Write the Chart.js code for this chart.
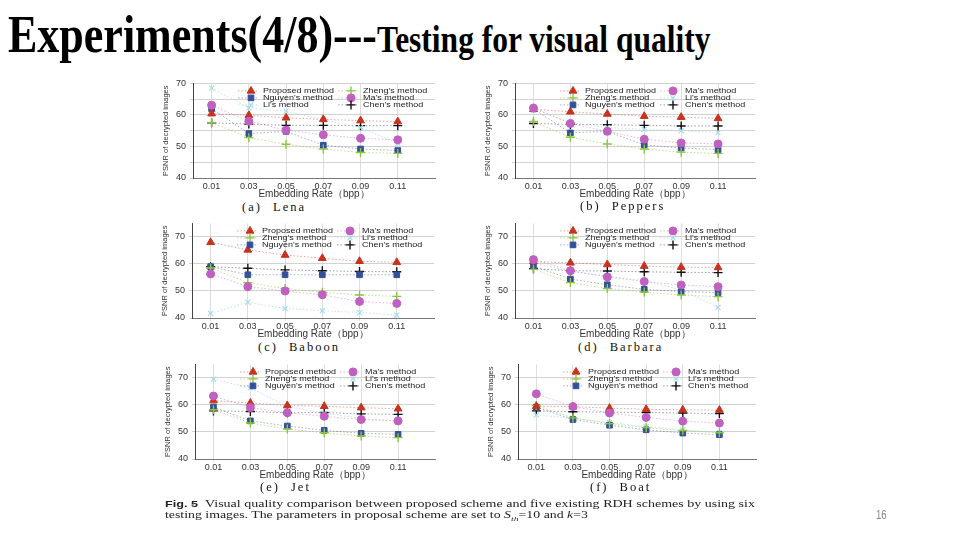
<!DOCTYPE html>
<html>
<head>
<meta charset="utf-8">
<script src="https://cdn.jsdelivr.net/npm/chart.js@4.4.1/dist/chart.umd.min.js"></script>
<style>
  body { margin: 0; width: 960px; height: 540px; background: #fff; position: relative; overflow: hidden; }
  #title { position: absolute; left: 8px; top: 9px; white-space: nowrap; font-family: "Liberation Serif", serif; font-weight: bold; line-height: 1; transform: scaleY(1.2); transform-origin: left top; }
  #title .big { font-size: 44px; }
  #title .small { font-size: 31.5px; }
  canvas { position: absolute; }
  .sub { position: absolute; font-family: "Liberation Serif", serif; font-size: 12.5px; letter-spacing: 2px; word-spacing: 6px; color: #111; white-space: nowrap; line-height: 14px; }
  .cap { position: absolute; left: 165px; font-family: "Liberation Serif", serif; font-size: 10px; color: #222; white-space: nowrap; line-height: 11px; transform-origin: left top; }
  .cap b { font-family: "Liberation Sans", sans-serif; font-size: 9px; }
  .cap sub { font-size: 7px; }
  #page { position: absolute; left: 876px; top: 508px; font-family: "Liberation Sans", sans-serif; font-size: 12px; color: #888; transform: scaleX(0.8); transform-origin: left top; }
</style>
</head>
<body>
<div id="title"><span class="big">Experiments(4/8)---</span><span class="small">Testing for visual quality</span></div>

<canvas id="lena" width="280" height="126" style="left:159px;top:74px"></canvas>
<canvas id="peppers" width="278" height="126" style="left:481px;top:74px"></canvas>
<canvas id="baboon" width="280" height="126" style="left:158px;top:214px"></canvas>
<canvas id="barbara" width="278" height="126" style="left:481px;top:214px"></canvas>
<canvas id="jet" width="278" height="126" style="left:161px;top:355px"></canvas>
<canvas id="boat" width="276" height="126" style="left:484px;top:355px"></canvas>

<div class="sub" style="left:242px;top:200px">(a) Lena</div>
<div class="sub" style="left:580px;top:199px">(b) Peppers</div>
<div class="sub" style="left:258px;top:340px">(c) Baboon</div>
<div class="sub" style="left:578px;top:340px">(d) Barbara</div>
<div class="sub" style="left:260px;top:480px">(e) Jet</div>
<div class="sub" style="left:590px;top:480px">(f) Boat</div>

<div class="cap" id="cap1" style="top:498px"><b>Fig. 5</b>&nbsp;&nbsp;Visual quality comparison between proposed scheme and five existing RDH schemes by using six</div>
<div class="cap" id="cap2" style="top:509px">testing images. The parameters in proposal scheme are set to <i>S<sub>th</sub></i>=10 and <i>k</i>=3</div>
<div id="page">16</div>

<script>
const rates = ['0.01', '0.03', '0.05', '0.07', '0.09', '0.11'];
const methods = ["Proposed method", "Zheng's method", "Nguyen's method", "Ma's method", "Li's method", "Chen's method"];

// (a) Lena
const lenaProposed = [60.4, 59.9, 59.1, 58.6, 58.2, 57.9];
const lenaZheng = [57.6, 52.8, 50.7, 49.2, 48.1, 47.8];
const lenaNguyen = [62.0, 54.1, 54.8, 50.4, 49.2, 48.7];
const lenaMa = [63.1, 58.0, 55.2, 53.7, 52.6, 52.1];
const lenaLi = [68.5, 62.2, 61.2, 58.5, 56.0, 51.0];
const lenaChen = [57.5, 57.1, 56.7, 56.7, 56.6, 56.6];

// (b) Peppers
const peppersProposed = [61.8, 61.0, 60.3, 59.6, 59.3, 58.9];
const peppersZheng = [57.9, 52.9, 50.8, 49.2, 48.2, 47.8];
const peppersNguyen = [61.9, 54.3, 54.8, 50.5, 49.5, 49.0];
const peppersMa = [62.2, 57.3, 54.8, 52.3, 51.1, 50.8];
const peppersLi = [62.0, 57.5, 56.0, 55.4, 55.0, 54.4];
const peppersChen = [57.3, 57.0, 56.9, 56.7, 56.5, 56.5];

// (c) Baboon
const baboonProposed = [68.0, 65.2, 63.3, 62.1, 61.0, 60.6];
const baboonZheng = [58.5, 53.1, 50.9, 49.5, 48.5, 48.0];
const baboonNguyen = [59.0, 56.0, 56.0, 56.0, 56.0, 56.0];
const baboonMa = [56.3, 51.6, 50.0, 48.6, 46.1, 45.4];
const baboonLi = [41.7, 45.8, 43.5, 42.7, 42.0, 41.1];
const baboonChen = [59.0, 58.4, 57.8, 57.5, 57.2, 57.1];

// (d) Barbara
const barbaraProposed = [60.9, 60.4, 59.8, 59.2, 58.8, 58.7];
const barbaraZheng = [58.0, 53.1, 50.9, 49.6, 48.5, 47.9];
const barbaraNguyen = [59.2, 54.4, 52.3, 50.6, 49.8, 49.4];
const barbaraMa = [61.6, 57.5, 55.2, 53.5, 52.2, 51.6];
const barbaraLi = [60.5, 57.2, 55.5, 53.8, 50.5, 43.9];
const barbaraChen = [58.2, 57.5, 57.4, 57.1, 56.9, 56.8];

// (e) Jet
const jetProposed = [61.6, 60.7, 59.8, 59.5, 59.0, 58.6];
const jetZheng = [58.2, 53.3, 51.1, 49.7, 48.5, 47.9];
const jetNguyen = [59.2, 54.1, 52.2, 50.6, 49.5, 49.1];
const jetMa = [63.3, 59.0, 57.1, 55.8, 54.6, 54.1];
const jetLi = [69.5, 66.3, 59.5, 57.0, 55.0, 54.0];
const jetChen = [57.8, 57.6, 57.1, 57.2, 56.7, 56.5];

// (f) Boat
const boatProposed = [59.5, 59.4, 58.8, 58.4, 58.2, 58.1];
const boatZheng = [59.8, 55.2, 53.1, 51.6, 50.5, 49.7];
const boatNguyen = [59.2, 54.6, 52.5, 50.8, 49.6, 49.0];
const boatMa = [64.1, 59.4, 57.0, 55.4, 54.0, 53.3];
const boatLi = [56.3, 55.0, 53.5, 52.0, 50.8, 49.8];
const boatChen = [57.8, 57.5, 57.3, 57.2, 57.0, 56.8];

const markColors = ['#c8321e', '#8cc63f', '#34509a', '#c060c0', '#a8dde8', '#111111'];
const lineColors = ['rgba(200,50,30,0.45)', 'rgba(140,198,63,0.55)', 'rgba(52,80,154,0.45)', 'rgba(192,96,192,0.45)', 'rgba(150,210,225,0.6)', 'rgba(40,40,40,0.45)'];
const markStyles = ['triangle', 'cross', 'rect', 'circle', 'crossRot', 'cross'];
const markSizes = [4.5, 4.5, 4, 4, 3.5, 4.5];
const markBorders = [1, 1.4, 1, 1, 1.2, 1.4];

// legend drawn in two columns inside the plot area
const gridLegend = {
    id: 'gridLegend',
    afterDatasetsDraw(chart, args, opts) {
        const { ctx, chartArea } = chart;
        ctx.save();
        opts.order.forEach((idx, k) => {
            const ds = chart.data.datasets[idx];
            const mx = chartArea.left + opts.cols[Math.floor(k / 3)];
            const my = chartArea.top + opts.rows[k % 3];

            ctx.strokeStyle = lineColors[idx];
            ctx.lineWidth = 1;
            ctx.setLineDash([1.5, 2]);
            ctx.beginPath();
            ctx.moveTo(mx - 13, my);
            ctx.lineTo(mx + 8, my);
            ctx.stroke();
            ctx.setLineDash([]);

            ctx.fillStyle = markColors[idx];
            ctx.strokeStyle = markColors[idx];
            ctx.lineWidth = markBorders[idx];
            Chart.helpers.drawPoint(ctx, {
                pointStyle: ds.pointStyle,
                radius: ds.pointRadius,
                borderWidth: markBorders[idx],
                rotation: 0
            }, mx, my);

            ctx.save();
            ctx.translate(mx + 12, my);
            ctx.scale(1, 0.8);
            ctx.fillStyle = '#222';
            ctx.font = '9px "Liberation Sans", Arial, sans-serif';
            ctx.textBaseline = 'middle';
            ctx.fillText(ds.label, 0, 0);
            ctx.restore();
        });
        ctx.restore();
    }
};

const buildPanel = (id, series, yMax, legendOrder) => {
    const datasets = series.map((values, i) => ({
        label: methods[i],
        data: values.map((v, k) => ({ x: k, y: v })),
        borderColor: lineColors[i],
        backgroundColor: markColors[i],
        pointBackgroundColor: markColors[i],
        pointBorderColor: markColors[i],
        pointStyle: markStyles[i],
        pointRadius: markSizes[i],
        pointBorderWidth: markBorders[i],
        borderWidth: 1,
        borderDash: [1.5, 2],
        tension: 0,
        fill: false,
        order: i === 3 ? -1 : 0
    }));

    return new Chart(document.getElementById(id), {
        type: 'line',
        data: { datasets },
        options: {
            responsive: false,
            animation: false,
            devicePixelRatio: 1,
            layout: { padding: { top: 4, right: 4, left: 0, bottom: 0 }, autoPadding: false },
            plugins: {
                legend: { display: false },
                tooltip: { enabled: false },
                gridLegend: { order: legendOrder, cols: [58, 158], rows: [7.5, 14.5, 21.5] }
            },
            scales: {
                x: {
                    type: 'linear',
                    min: -0.5,
                    max: 6,
                    afterBuildTicks: scale => { scale.ticks = rates.map((r, i) => ({ value: i })); },
                    afterFit: scale => { scale.height = 22; },
                    ticks: {
                        callback: v => rates[v],
                        color: '#333',
                        font: { family: '"Liberation Sans", Arial, sans-serif', size: 9 },
                        padding: 0,
                        maxRotation: 0
                    },
                    grid: { color: '#dedede', tickLength: 3 },
                    border: { color: '#777' },
                    title: {
                        display: true,
                        text: 'Embedding Rate（bpp）',
                        color: '#333',
                        font: { family: '"Liberation Sans", Arial, sans-serif', size: 10 },
                        padding: { top: 0, bottom: 0 }
                    }
                },
                y: {
                    min: 40,
                    max: yMax,
                    afterFit: scale => { scale.width = 34; },
                    ticks: {
                        stepSize: 5,
                        callback: v => (v % 10 === 0 ? v : ''),
                        color: '#333',
                        font: { family: '"Liberation Sans", Arial, sans-serif', size: 9 },
                        padding: 4
                    },
                    grid: { color: '#d2d2d2', tickLength: 3 },
                    border: { color: '#444' },
                    title: {
                        display: true,
                        text: 'PSNR of decrypted images',
                        color: '#333',
                        font: { family: '"Liberation Sans", Arial, sans-serif', size: 7.5 },
                        padding: { top: 2, bottom: 0 }
                    }
                }
            }
        },
        plugins: [gridLegend]
    });
};

buildPanel('lena', [lenaProposed, lenaZheng, lenaNguyen, lenaMa, lenaLi, lenaChen], 70, [0, 2, 4, 1, 3, 5]);
buildPanel('peppers', [peppersProposed, peppersZheng, peppersNguyen, peppersMa, peppersLi, peppersChen], 70, [0, 1, 2, 3, 4, 5]);
buildPanel('baboon', [baboonProposed, baboonZheng, baboonNguyen, baboonMa, baboonLi, baboonChen], 75, [0, 1, 2, 3, 4, 5]);
buildPanel('barbara', [barbaraProposed, barbaraZheng, barbaraNguyen, barbaraMa, barbaraLi, barbaraChen], 75, [0, 1, 2, 3, 4, 5]);
buildPanel('jet', [jetProposed, jetZheng, jetNguyen, jetMa, jetLi, jetChen], 75, [0, 1, 2, 3, 4, 5]);
buildPanel('boat', [boatProposed, boatZheng, boatNguyen, boatMa, boatLi, boatChen], 75, [0, 1, 2, 3, 4, 5]);

// stretch the caption lines to the width they have on the slide
const fitWidth = (el, target) => {
    const w = el.getBoundingClientRect().width;
    el.style.transform = `scaleX(${target / w})`;
};
fitWidth(document.getElementById('cap1'), 590);
fitWidth(document.getElementById('cap2'), 423);
</script>
</body>
</html>
